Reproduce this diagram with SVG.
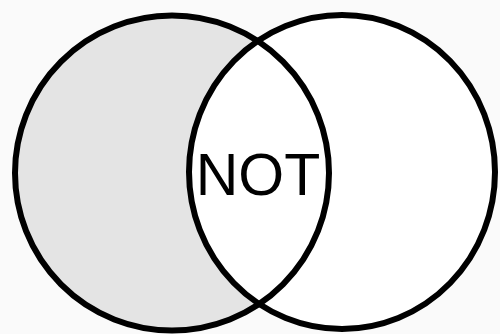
<svg xmlns="http://www.w3.org/2000/svg" width="500" height="334" viewBox="0 0 500 334">
  <style>
    .ring { fill: none; stroke: #000; stroke-width: 6; }
    .lbl { font-family: "Liberation Sans", Arial, sans-serif; font-size: 59px; fill: #000; text-anchor: middle; }
  </style>
  <rect width="500" height="334" fill="#fafafa"/>
  <g id="fills">
    <ellipse cx="172" cy="173" rx="157" ry="157.5" fill="#e4e4e4"/>
    <ellipse cx="342" cy="172" rx="153" ry="157" fill="#ffffff"/>
  </g>
  <g id="setA">
    <ellipse class="ring" cx="172" cy="173" rx="157" ry="157.5"/>
  </g>
  <g id="setB">
    <ellipse class="ring" cx="342" cy="172" rx="153" ry="157"/>
  </g>
  <g id="label">
    <text class="lbl" x="258" y="195">NOT</text>
  </g>
</svg>
